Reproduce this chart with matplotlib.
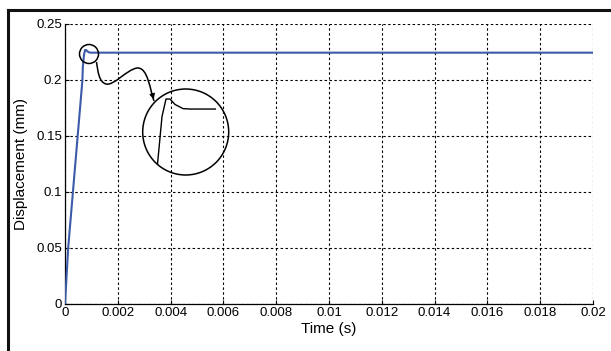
import matplotlib
matplotlib.use("Agg")
import matplotlib.pyplot as plt
from matplotlib.patches import Ellipse, FancyArrowPatch, PathPatch
from matplotlib.path import Path
from matplotlib.lines import Line2D
from matplotlib.transforms import Bbox, TransformedBbox

plt.rcParams['font.family'] = ['Liberation Sans', 'DejaVu Sans']

# Data
time_s = [0, 0.00012, 0.0003, 0.00066, 0.000675, 0.00072, 0.00076, 0.00080,
          0.00085, 0.00093, 0.0010, 0.02]
disp_mm = [0, 0.05, 0.1, 0.2, 0.2112, 0.2226, 0.2268, 0.2268,
           0.2255, 0.2245, 0.2244, 0.2244]
x_ticks = [0, 0.002, 0.004, 0.006, 0.008, 0.01, 0.012, 0.014, 0.016, 0.018, 0.02]
x_tick_labels = ['0', '0.002', '0.004', '0.006', '0.008', '0.01', '0.012',
                 '0.014', '0.016', '0.018', '0.02']
y_ticks = [0, 0.05, 0.1, 0.15, 0.2, 0.25]
y_tick_labels = ['0', '0.05', '0.1', '0.15', '0.2', '0.25']

W, H = 611, 351
fig = plt.figure(figsize=(W / 100, H / 100), dpi=100)

def fx(px):
    return px / W

def fy(py):
    return 1 - py / H

ax = fig.add_axes([fx(65), fy(304), fx(593) - fx(65), fy(24) - fy(304)])
ax.plot(time_s, disp_mm, color='#3b5ba9', lw=1.5, zorder=3)
ax.set_xlim(0, 0.02)
ax.set_ylim(0, 0.25)
ax.set_xticks(x_ticks)
ax.set_xticklabels(x_tick_labels)
ax.set_yticks(y_ticks)
ax.set_yticklabels(y_tick_labels)
ax.grid(True, color='black', linestyle=(0, (2.2, 2.2)), lw=0.8)
ax.spines['top'].set_visible(False)
ax.spines['right'].set_visible(False)
for s in ['left', 'bottom']:
    ax.spines[s].set_linewidth(0.9)
ax.tick_params(direction='in', length=3, labelsize=9.5, colors='black', pad=2)
ax.set_xlabel('Time (s)', fontsize=11, labelpad=2)
ax.set_ylabel('Displacement (mm)', fontsize=11, labelpad=6)

# small circle around the peak
fig.patches.append(Ellipse((fx(89), fy(54)), 19 / W, 19 / H, transform=fig.transFigure,
                           fill=False, lw=1.1, color='black'))

# magnified inset (circle)
cx, cy, r = 185.7, 132, 43
ins = fig.add_axes([fx(cx - r), fy(cy + r), 2 * r / W, 2 * r / H])
ins.plot(time_s, disp_mm, color='black', lw=1.0)
ins.set_xlim(0.000527, 0.001387)
ins.set_ylim(0.2086, 0.2292)
ins.axis('off')
ins.patch.set_visible(False)
clip = Ellipse((0.5, 0.5), 1, 1, transform=ins.transAxes)
for ln in ins.lines:
    ln.set_clip_path(clip)
    ln.set_clip_box(TransformedBbox(Bbox([[0, 0], [0.855, 1]]), ins.transAxes))
fig.patches.append(Ellipse((fx(cx), fy(cy)), 2 * r / W, 2 * r / H, transform=fig.transFigure,
                           fill=False, lw=1.1, color='black'))

# curvy connector arrow
verts = [(96.5, 62), (98, 72), (99, 82), (106, 84),
         (114, 86), (126, 70), (137, 68),
         (148, 67), (150, 90), (154, 101)]
codes = [Path.MOVETO, Path.CURVE4, Path.CURVE4, Path.CURVE4,
         Path.CURVE4, Path.CURVE4, Path.CURVE4,
         Path.CURVE4, Path.CURVE4, Path.CURVE4]
path = Path([(fx(a), fy(b)) for a, b in verts], codes)
fig.patches.append(PathPatch(path, transform=fig.transFigure, fill=False, lw=1.1, color='black'))
arrow = FancyArrowPatch((fx(152.8), fy(96)), (fx(154.5), fy(102)), transform=fig.transFigure,
                        arrowstyle='-|>', mutation_scale=8, color='black', lw=0.8)
fig.patches.append(arrow)

# outer frame (top and left edges)
fig.add_artist(Line2D([fx(8), 1], [fy(10), fy(10)], transform=fig.transFigure, color='#111111', lw=2.2))
fig.add_artist(Line2D([fx(8), fx(8)], [fy(10), 0], transform=fig.transFigure, color='#111111', lw=2.2))

fig.savefig('out.png', dpi=100)
